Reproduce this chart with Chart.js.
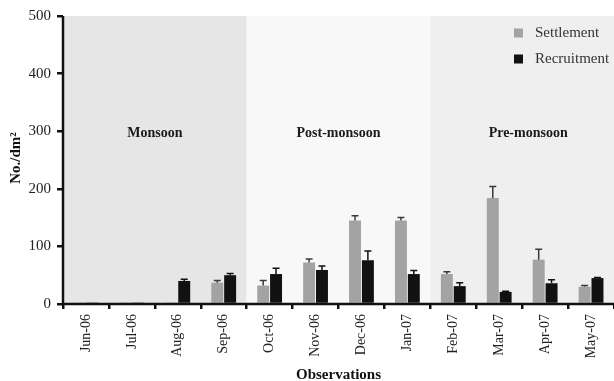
<!DOCTYPE html>
<html>
<head>
<meta charset="utf-8">
<script src="https://cdn.jsdelivr.net/npm/chart.js@4.4.1/dist/chart.umd.min.js"></script>
<style>
  html, body { margin: 0; padding: 0; background: #fff; }
  #wrap { width: 614px; height: 381px; position: relative; }
</style>
</head>
<body>
<div id="wrap"><canvas id="c"></canvas></div>
<script>
// Monthly observations
const months = ['Jun-06','Jul-06','Aug-06','Sep-06','Oct-06','Nov-06','Dec-06','Jan-07','Feb-07','Mar-07','Apr-07','May-07'];
// Mean density (No./dm²) and upper error (SE)
const settlement    = [1, 1, 1, 37, 32, 72, 145, 145, 52, 184, 77, 30];
const settlementErr = [0, 0, 0, 4, 9, 6, 8, 5, 4, 20, 18, 2];
const recruitment    = [1, 1, 40, 50, 52, 59, 76, 52, 31, 21, 36, 45];
const recruitmentErr = [0, 0, 3, 3, 10, 7, 16, 6, 6, 1, 6, 1];
// Seasons: label, first and last month index, shading
const seasonNames  = ['Monsoon', 'Post-monsoon', 'Pre-monsoon'];
const seasonStart  = [0, 4, 8];
const seasonEnd    = [3, 7, 11];
const seasonShades = ['#e6e6e6', '#f8f8f8', '#efefef'];
const yTicks = [0, 100, 200, 300, 400, 500];

const serif = '"Liberation Serif", "Times New Roman", serif';

const seasonsPlugin = {
  id: 'seasons',
  beforeDatasetsDraw(chart) {
    const { ctx, chartArea: a, scales: { x } } = chart;
    const half = (x.getPixelForValue(1) - x.getPixelForValue(0)) / 2;
    ctx.save();
    seasonNames.forEach((name, i) => {
      const l = x.getPixelForValue(seasonStart[i]) - half;
      const r = Math.min(x.getPixelForValue(seasonEnd[i]) + half, a.right + 2);
      ctx.fillStyle = seasonShades[i];
      ctx.fillRect(l, a.top, r - l, a.bottom - a.top);
    });
    ctx.fillStyle = '#1a1a1a';
    ctx.font = 'bold 14px ' + serif;
    ctx.textAlign = 'center';
    ctx.textBaseline = 'middle';
    const yl = chart.scales.y.getPixelForValue(300) + 2;
    seasonNames.forEach((name, i) => {
      const cx = (x.getPixelForValue(seasonStart[i]) + x.getPixelForValue(seasonEnd[i])) / 2;
      ctx.fillText(name, cx + (i === 2 ? 6 : 0), yl);
    });
    ctx.restore();
  },
  afterDatasetsDraw(chart) {
    const { ctx, chartArea: a } = chart;
    const y = chart.scales.y;
    ctx.save();
    // upper error bars
    const errs = [settlementErr, recruitmentErr];
    const errColors = ['#3a3a3a', '#111'];
    chart.data.datasets.forEach((ds, di) => {
      const meta = chart.getDatasetMeta(di);
      meta.data.forEach((bar, i) => {
        const e = errs[di][i];
        if (!e) return;
        const top = y.getPixelForValue(ds.data[i] + e);
        ctx.strokeStyle = errColors[di];
        ctx.lineWidth = 1.5;
        ctx.beginPath();
        ctx.moveTo(bar.x, bar.y);
        ctx.lineTo(bar.x, top);
        ctx.moveTo(bar.x - 3.5, top);
        ctx.lineTo(bar.x + 3.5, top);
        ctx.stroke();
      });
    });
    // axis lines
    ctx.strokeStyle = '#111';
    ctx.lineWidth = 2.5;
    ctx.beginPath();
    ctx.moveTo(a.left, a.top);
    ctx.lineTo(a.left, a.bottom);
    ctx.lineTo(a.right, a.bottom);
    ctx.stroke();
    // legend
    ctx.font = '15px ' + serif;
    ctx.textBaseline = 'middle';
    ctx.textAlign = 'left';
    chart.data.datasets.forEach((ds, di) => {
      const ly = 33 + di * 26;
      ctx.fillStyle = ds.backgroundColor;
      ctx.fillRect(514, ly - 4.5, 9, 9);
      ctx.fillStyle = '#333';
      ctx.fillText(ds.label, 535, ly);
    });
    // axis titles
    ctx.fillStyle = '#111';
    ctx.font = 'bold 15px ' + serif;
    ctx.textAlign = 'center';
    ctx.fillText('Observations', (a.left + a.right) / 2, 375);
    ctx.translate(16, (a.top + a.bottom) / 2 - 2);
    ctx.rotate(-Math.PI / 2);
    ctx.fillText('No./dm²', 0, 0);
    ctx.restore();
  }
};

new Chart(document.getElementById('c'), {
  type: 'bar',
  data: {
    labels: months,
    datasets: [
      { label: 'Settlement', data: settlement, backgroundColor: '#a3a3a3', borderWidth: 0 },
      { label: 'Recruitment', data: recruitment, backgroundColor: '#111111', borderWidth: 0 }
    ]
  },
  options: {
    responsive: true,
    maintainAspectRatio: false,
    animation: false,
    layout: { padding: { top: 16, right: 0, left: 0, bottom: 0 } },
    plugins: { legend: { display: false }, tooltip: { enabled: false } },
    datasets: { bar: { categoryPercentage: 0.56, barPercentage: 0.93 } },
    scales: {
      x: {
        grid: { display: true, drawOnChartArea: false, drawTicks: true, tickLength: 5, color: '#111', lineWidth: 2.5, offset: true },
        border: { display: false },
        ticks: { color: '#222', font: { family: serif, size: 14 }, minRotation: 90, maxRotation: 90, padding: 5, autoSkip: false },
        afterFit(s) { s.height = 77; }
      },
      y: {
        min: 0, max: 500,
        afterBuildTicks(s) { s.ticks = yTicks.map(v => ({ value: v })); },
        grid: { display: true, drawOnChartArea: false, drawTicks: true, tickLength: 6, color: '#111', lineWidth: 2.5 },
        border: { display: false },
        ticks: { color: '#222', font: { family: serif, size: 15 }, padding: 6 },
        afterFit(s) { s.width = 63; }
      }
    }
  },
  plugins: [seasonsPlugin]
});
</script>
</body>
</html>
